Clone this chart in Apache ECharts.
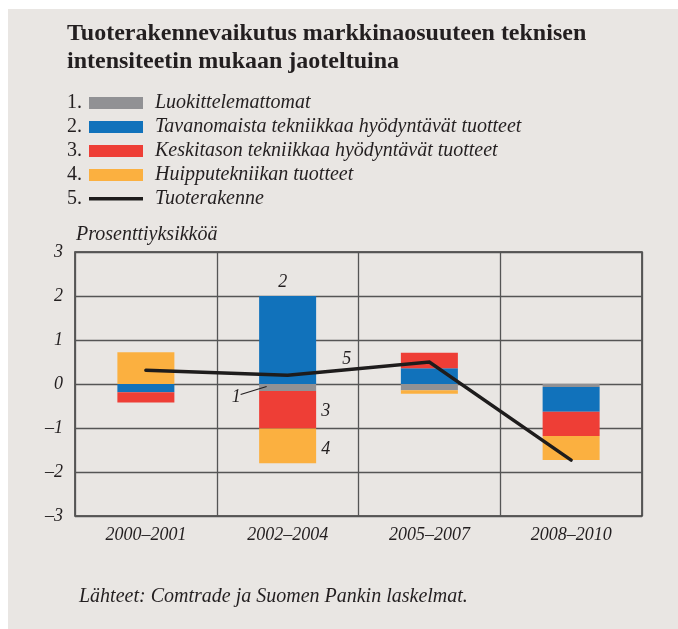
<!DOCTYPE html>
<html>
<head>
<meta charset="utf-8">
<script src="https://cdn.jsdelivr.net/npm/echarts@6/dist/echarts.min.js"></script>
<style>
  html, body { margin: 0; padding: 0; background: #ffffff; }
  #chart { width: 678px; height: 629px; }
</style>
</head>
<body>
<div id="chart"></div>
<script>
// Periods on the x axis
const categories = ['2000–2001', '2002–2004', '2005–2007', '2008–2010'];

// Contributions by technology intensity, percentage points
const unclassified = [0, -0.16, -0.14, -0.07];   // 1. Luokittelemattomat
const lowTech      = [-0.19, 2.0, 0.36, -0.56];  // 2. Tavanomaista tekniikkaa
const mediumTech   = [-0.23, -0.85, 0.35, -0.55];// 3. Keskitason tekniikkaa
const highTech     = [0.72, -0.79, -0.08, -0.55];// 4. Huipputekniikan tuotteet
const productMix   = [0.31, 0.20, 0.50, -1.73];  // 5. Tuoterakenne

const yTicks = [-3, -2, -1, 0, 1, 2, 3];

const seriesNames = [
  'Luokittelemattomat',
  'Tavanomaista tekniikkaa hyödyntävät tuotteet',
  'Keskitason tekniikkaa hyödyntävät tuotteet',
  'Huipputekniikan tuotteet',
  'Tuoterakenne'
];

const colors = {
  grey: '#919194',
  blue: '#1172bb',
  red: '#ee3e36',
  orange: '#fbb040',
  line: '#1e1c1c',
  text: '#231f20',
  grid: '#555555',
  bg: '#e9e6e3'
};

const serif = '"Liberation Serif", "DejaVu Serif", serif';
const italicText = { fontFamily: serif, fontStyle: 'italic', color: colors.text };

// Thin horizontal stroke inside a 54x12 box (corner dots keep the box size)
const lineIcon = 'path://M0,0h0.01v0.01h-0.01Z M0,4h54v3.5h-54Z M53.99,11.99h0.01v0.01h-0.01Z';

const chart = echarts.init(document.getElementById('chart'), null, { renderer: 'canvas' });

function barSeries(name, data, color, labels) {
  return {
    name: name,
    type: 'bar',
    stack: 'total',
    barWidth: 57,
    data: data.map((v, i) => {
      const item = { value: v };
      if (labels && labels[i]) item.label = labels[i];
      return item;
    }),
    itemStyle: { color: color },
    emphasis: { disabled: true },
    z: 2
  };
}

const annoLabel = (text, position, offset) => ({
  show: true,
  position: position,
  distance: 5,
  offset: offset || [0, 0],
  formatter: text,
  fontFamily: serif,
  fontStyle: 'italic',
  fontSize: 18,
  color: colors.text
});

const option = {
  backgroundColor: '#ffffff',
  animation: false,
  color: [colors.grey, colors.blue, colors.red, colors.orange, colors.line],
  graphic: [
    { type: 'rect', shape: { x: 8, y: 9, width: 670, height: 620 }, style: { fill: colors.bg }, z: -10, silent: true },
    { type: 'text', left: 67, top: 20, style: { text: 'Tuoterakennevaikutus markkinaosuuteen teknisen\nintensiteetin mukaan jaoteltuina', font: 'bold 24px ' + serif, fill: colors.text, lineHeight: 28 } },
    { type: 'text', left: 76, top: 225, style: { text: 'Prosenttiyksikköä', font: 'italic 20px ' + serif, fill: colors.text } },
    { type: 'text', left: 79, top: 587, style: { text: 'Lähteet: Comtrade ja Suomen Pankin laskelmat.', font: 'italic 20px ' + serif, fill: colors.text } }
  ].concat([1, 2, 3, 4, 5].map((n, i) => ({
    type: 'text', left: 67, top: 93 + i * 24,
    style: { text: n + '.', font: '20px ' + serif, fill: colors.text }
  }))),
  legend: {
    orient: 'vertical',
    left: 89,
    top: 93,
    padding: 0,
    itemWidth: 54,
    itemHeight: 12,
    itemGap: 4,
    selectedMode: false,
    data: seriesNames.map((n, i) => ({ name: n, icon: i < 4 ? 'rect' : lineIcon })),
    textStyle: { fontFamily: serif, fontStyle: 'italic', fontSize: 20, color: colors.text, padding: [0, 0, 0, 7] }
  },
  grid: {
    left: 75, right: 36, top: 252, bottom: 113,
    show: true, borderColor: '#333333', borderWidth: 1.5, backgroundColor: 'transparent'
  },
  xAxis: {
    type: 'category',
    data: categories,
    boundaryGap: true,
    axisLine: { show: false },
    axisTick: { show: false },
    splitLine: { show: true, interval: 0, lineStyle: { color: colors.grid, width: 1.3 } },
    axisLabel: { ...italicText, fontSize: 18, margin: 10, interval: 0 }
  },
  yAxis: {
    type: 'value',
    min: yTicks[0],
    max: yTicks[yTicks.length - 1],
    interval: 1,
    axisLine: { show: false },
    axisTick: { show: false },
    splitLine: { show: true, lineStyle: { color: colors.grid, width: 1.3 } },
    axisLabel: {
      ...italicText, fontSize: 18, margin: 12,
      formatter: v => String(v).replace('-', '–')
    }
  },
  series: [
    barSeries(seriesNames[0], unclassified, colors.grey),
    barSeries(seriesNames[1], lowTech, colors.blue, [null, annoLabel('2', 'top', [-5, 0])]),
    barSeries(seriesNames[2], mediumTech, colors.red, [null, annoLabel('3', 'right', [0, 2])]),
    barSeries(seriesNames[3], highTech, colors.orange, [null, annoLabel('4', 'right', [0, 3])]),
    {
      name: seriesNames[4],
      type: 'line',
      data: productMix,
      symbol: 'none',
      showSymbol: false,
      lineStyle: { color: colors.line, width: 3.5, cap: 'round', join: 'miter' },
      itemStyle: { color: colors.line },
      emphasis: { disabled: true },
      z: 5
    }
  ]
};

chart.setOption(option);

// Call-outs for series 1 (leader line) and 5, anchored to data coordinates
const greyPt = chart.convertToPixel({ xAxisIndex: 0, yAxisIndex: 0 }, [1, unclassified[1] / 2]);
const p1 = chart.convertToPixel({ xAxisIndex: 0, yAxisIndex: 0 }, [1, productMix[1]]);
const p2 = chart.convertToPixel({ xAxisIndex: 0, yAxisIndex: 0 }, [2, productMix[2]]);
const t = 0.42;
const midX = p1[0] + (p2[0] - p1[0]) * t;
const midY = p1[1] + (p2[1] - p1[1]) * t;

const extra = option.graphic.concat([
  { type: 'line', shape: { x1: greyPt[0] - 21, y1: greyPt[1] - 1, x2: greyPt[0] - 47, y2: greyPt[1] + 7 }, style: { stroke: colors.text, lineWidth: 1.2 }, z: 10 },
  { type: 'text', x: greyPt[0] - 56, y: greyPt[1] + 1, style: { text: '1', font: 'italic 18px ' + serif, fill: colors.text }, z: 10 },
  { type: 'text', x: midX - 5, y: midY - 19, style: { text: '5', font: 'italic 18px ' + serif, fill: colors.text }, z: 10 }
]);
chart.setOption({ graphic: extra }, { replaceMerge: ['graphic'] });
</script>
</body>
</html>
